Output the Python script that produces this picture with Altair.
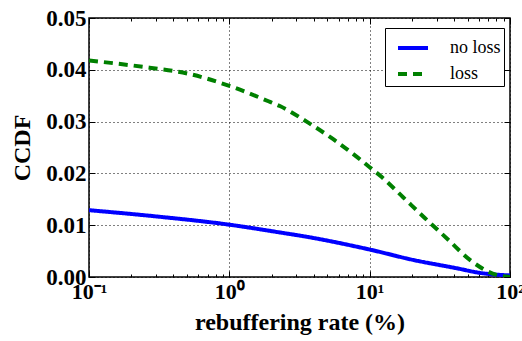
import altair as alt
import pandas as pd

# ---- data ----
noloss_x = [0.1, 0.3, 1, 2.29, 3.5, 10, 20.4, 41.5, 60.9, 100]
noloss_y = [0.0129, 0.0117, 0.0101, 0.0086, 0.0078, 0.0053, 0.0033, 0.0017, 0.0008, 0.0003]
loss_x = [0.1, 0.27, 0.5, 1, 1.95, 2.29, 3.65, 5.5, 8.28, 10, 12.2, 17.3, 24.7, 36.3, 51.8, 80.3, 100]
loss_y = [0.0418, 0.0404, 0.0393, 0.0369, 0.0338, 0.0330, 0.0298, 0.0266, 0.0230, 0.0212,
          0.0193, 0.0154, 0.0114, 0.0072, 0.0033, 0.0004, 0.0]
series_names = ["no loss", "loss"]
series_colors = ["#0000ff", "#008000"]

x_major = [0.1, 1, 10, 100]
x_major_labels = ["10⁻¹", "10⁰", "10¹", "10²"]
x_minor = [m * d for d in [0.1, 1, 10] for m in range(2, 10)]
y_major = [0.0, 0.01, 0.02, 0.03, 0.04, 0.05]

df = pd.concat([
    pd.DataFrame({"x": noloss_x, "y": noloss_y, "series": series_names[0]}),
    pd.DataFrame({"x": loss_x, "y": loss_y, "series": series_names[1]}),
])

FONT = "Liberation Serif"
W, H = 421, 259

label_expr = " : ".join(
    f"datum.value == {v} ? '{l}'" for v, l in zip(x_major, x_major_labels)
) + " : ''"

xscale = alt.Scale(type="log", domain=[0.1, 100], nice=False)
yscale = alt.Scale(domain=[0, 0.05], nice=False, zero=False)

legend = alt.Legend(
    title=None, orient="none", legendX=296, legendY=10,
    strokeColor="black", fillColor="white", padding=3, cornerRadius=0,
    symbolType="stroke", symbolSize=900, symbolStrokeWidth=4, symbolOffset=8,
    labelFont=FONT, labelFontSize=18, labelFontWeight="normal", labelColor="black",
    labelOffset=20, rowPadding=-1,
)

main = alt.Chart(df).mark_line(strokeWidth=4, interpolate="monotone", clip=True).encode(
    x=alt.X("x:Q", scale=xscale, axis=alt.Axis(
        values=x_major, labelExpr=label_expr, ticks=False, tickSize=0, domain=False,
        grid=True, gridColor="black", gridDash=[1, 3], gridWidth=1,
        labelFont=FONT, labelFontSize=22, labelFontWeight="bold", labelColor="black",
        labelFlush=False, labelOverlap=False, labelPadding=4,
        title="rebuffering rate (%)", titleFont=FONT, titleFontSize=24,
        titleFontWeight="bold", titleColor="black", titlePadding=8)),
    y=alt.Y("y:Q", scale=yscale, axis=alt.Axis(
        values=y_major, format=".2f", ticks=False, tickSize=0, domain=False,
        grid=True, gridColor="black", gridDash=[1, 3], gridWidth=1,
        labelFont=FONT, labelFontSize=23, labelFontWeight="bold", labelColor="black",
        labelPadding=3, labelOverlap=False,
        title="CCDF", titleFont=FONT, titleFontSize=24, titleFontWeight="bold",
        titleColor="black", titlePadding=11)),
    color=alt.Color("series:N", scale=alt.Scale(domain=series_names, range=series_colors),
                    legend=legend),
    strokeDash=alt.StrokeDash("series:N", scale=alt.Scale(domain=series_names,
                              range=[[1, 0], [9, 6]]), legend=legend),
)


def tick_layer(xorient, xvals, xsize, yorient=None, yvals=None, ysize=0):
    xaxis = alt.Axis(orient=xorient, values=xvals, tickSize=xsize, offset=-xsize,
                     tickColor="black", tickWidth=1, labels=False, domain=False,
                     grid=False, title=None)
    if yorient is None:
        yaxis = None
    else:
        yaxis = alt.Axis(orient=yorient, values=yvals, tickSize=ysize, offset=-ysize,
                         tickColor="black", tickWidth=1, labels=False, domain=False,
                         grid=False, title=None)
    return alt.Chart(df).mark_point(opacity=0, size=0).encode(
        x=alt.X("x:Q", scale=xscale, axis=xaxis),
        y=alt.Y("y:Q", scale=yscale, axis=yaxis),
    )


chart = alt.layer(
    main,
    tick_layer("bottom", x_major, 6, "left", y_major, 6),
    tick_layer("top", x_major, 6, "right", y_major, 6),
    tick_layer("bottom", x_minor, 3),
    tick_layer("top", x_minor, 3),
).resolve_axis(x="independent", y="independent").properties(
    width=W, height=H,
    padding={"left": 89, "top": 18, "right": 12, "bottom": 64},
    autosize=alt.AutoSizeParams(type="none"),
    background="white",
).configure_view(stroke="black", strokeWidth=1.5)

chart.save("out.html", embed_options={"renderer": "svg", "actions": False})
